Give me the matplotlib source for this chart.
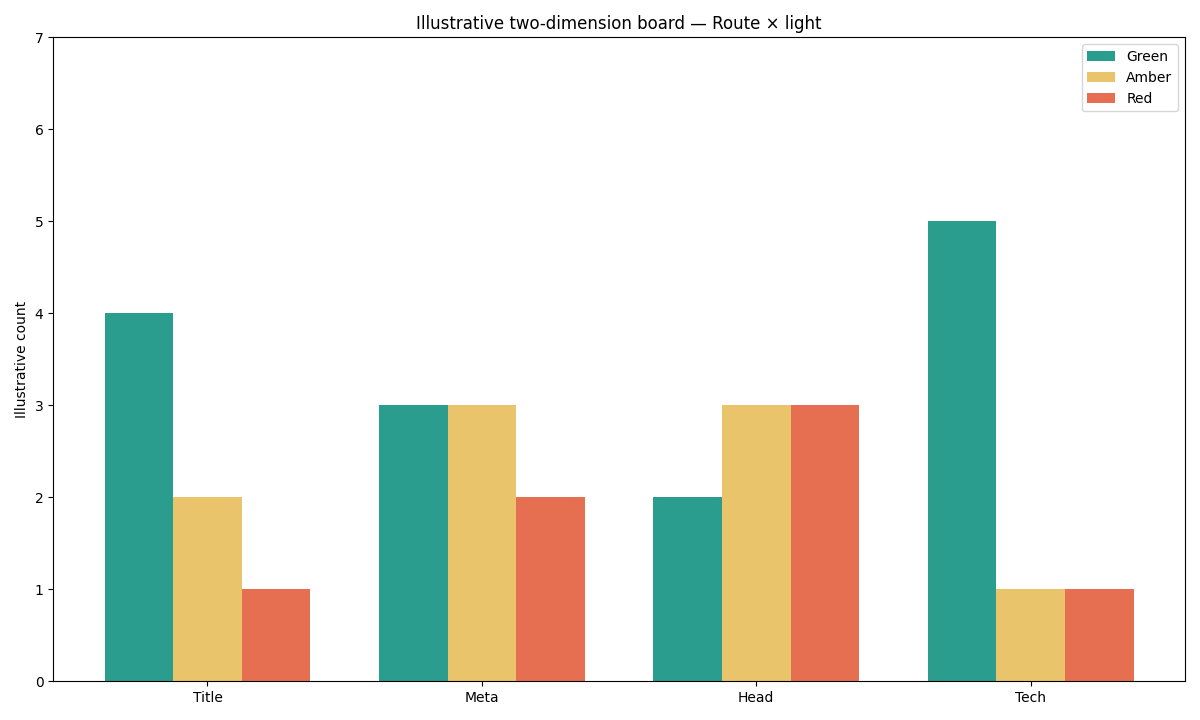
import numpy as np
import matplotlib.pyplot as plt

routes = ["Title", "Meta", "Head", "Tech"]
green = [4, 3, 2, 5]
amber = [2, 3, 3, 1]
red = [1, 2, 3, 1]

fig, ax = plt.subplots(figsize=(12, 7.2), dpi=100)
x = np.arange(len(routes))
w = 0.25

ax.bar(x - w, green, w, color="#2a9d8f", label="Green")
ax.bar(x, amber, w, color="#e9c46a", label="Amber")
ax.bar(x + w, red, w, color="#e76f51", label="Red")

ax.set_xticks(x)
ax.set_xticklabels(routes)
ax.set_ylim(0, 7)
ax.set_ylabel("Illustrative count")
ax.set_title("Illustrative two-dimension board — Route × light")
ax.legend(loc="upper right")

plt.tight_layout()
plt.savefig("out.png", dpi=100)
